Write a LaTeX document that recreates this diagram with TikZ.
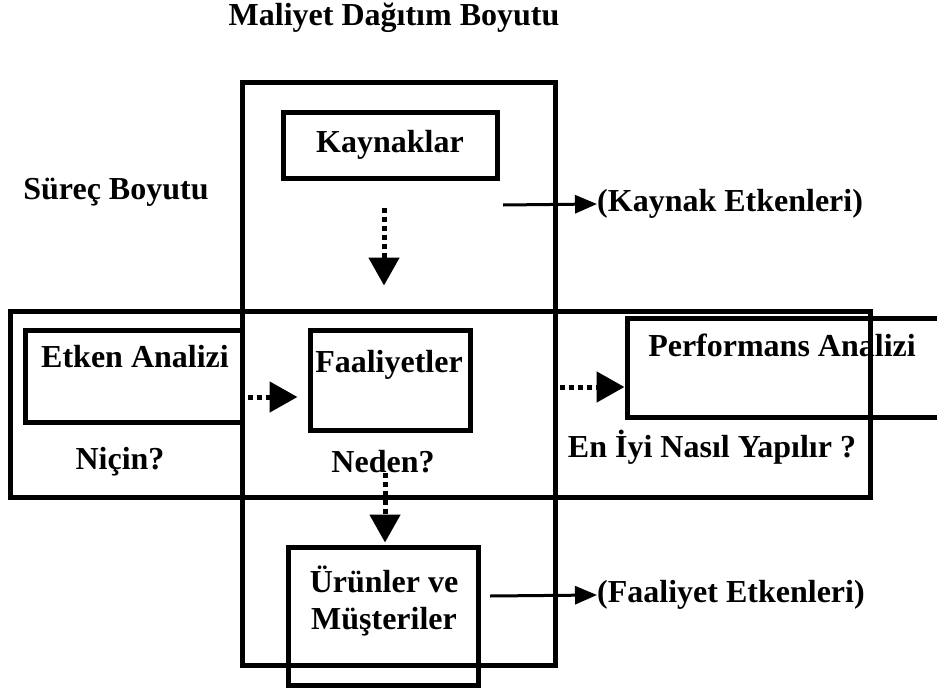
\documentclass[tikz,border=0pt]{standalone}
\usepackage{fontspec}
\setmainfont{Liberation Serif}
\usetikzlibrary{arrows.meta}
\begin{document}
\begin{tikzpicture}[x=1pt,y=-1pt,
  lbl/.style={font=\fontsize{32}{37}\selectfont\bfseries, inner sep=0pt},
  box/.style={draw, line width=5pt, rectangle, inner sep=0pt},
  dotarrow/.style={line width=5pt, dash pattern=on 5pt off 4pt, -{Triangle[length=28pt,width=30pt]}},
  solarrow/.style={line width=3pt, -{Triangle[length=22pt,width=18pt]}}]
\useasboundingbox (0,0) rectangle (937,688);
\clip (0,0) rectangle (937,688);
% frames
\node[box, minimum width=313, minimum height=583] (maliyet) at (398.5,373.5) {};
\node[box, minimum width=860, minimum height=186] (surec) at (440,404) {};
% boxes
\node[box, minimum width=214, minimum height=66, lbl] (kaynak) at (390,145) {Kaynaklar};
\node[box, minimum width=217, minimum height=92] (etken) at (133.5,376) {};
\node[lbl] (etkent) at (135,357) {Etken Analizi};
\node[box, minimum width=160, minimum height=100] (faal) at (390,380) {};
\node[lbl] (faalt) at (389,365) {Faaliyetler};
\node[box, minimum width=333, minimum height=99] (perf) at (793.5,367.5) {};
\node[lbl] (perft) at (782,345) {Performans Analizi};
\node[box, minimum width=190, minimum height=138] (urun) at (383,616) {};
\node[lbl, align=center] (urunt) at (384,601) {Ürünler ve\\Müşteriler};
% labels
\node[lbl] (title) at (394,18) {Maliyet Dağıtım Boyutu};
\node[lbl] (surect) at (116,192) {Süreç Boyutu};
\node[lbl] (nicin) at (120,462) {Niçin?};
\node[lbl] (neden) at (383,462) {Neden?};
\node[lbl] (eniyi) at (712,447) {En İyi Nasıl Yapılır ?};
\node[lbl, anchor=west] (kayet) at (597,204) {(Kaynak Etkenleri)};
\node[lbl, anchor=west] (faalet) at (597,595) {(Faaliyet Etkenleri)};
% dotted arrows
\draw[dotarrow] ([shift={(-6,27)}]kaynak.south) -- ([shift={(-6,-42)}]faal.north);
\draw[dotarrow] ([shift={(3,21)}]etken.east) -- ([shift={(-10,17)}]faal.west);
\draw[dotarrow] ([shift={(-5,40)}]faal.south) -- ([shift={(2,-2)}]urun.north);
\draw[dotarrow] ([shift={(2,13.5)}]maliyet.east) -- ([shift={(0,19.5)}]perf.west);
% solid arrows
\coordinate (k0) at (503,205);
\coordinate (f0) at (490,596);
\draw[solarrow] (k0) -- (kayet.west);
\draw[solarrow] (f0) -- (faalet.west);
\end{tikzpicture}
\end{document}
